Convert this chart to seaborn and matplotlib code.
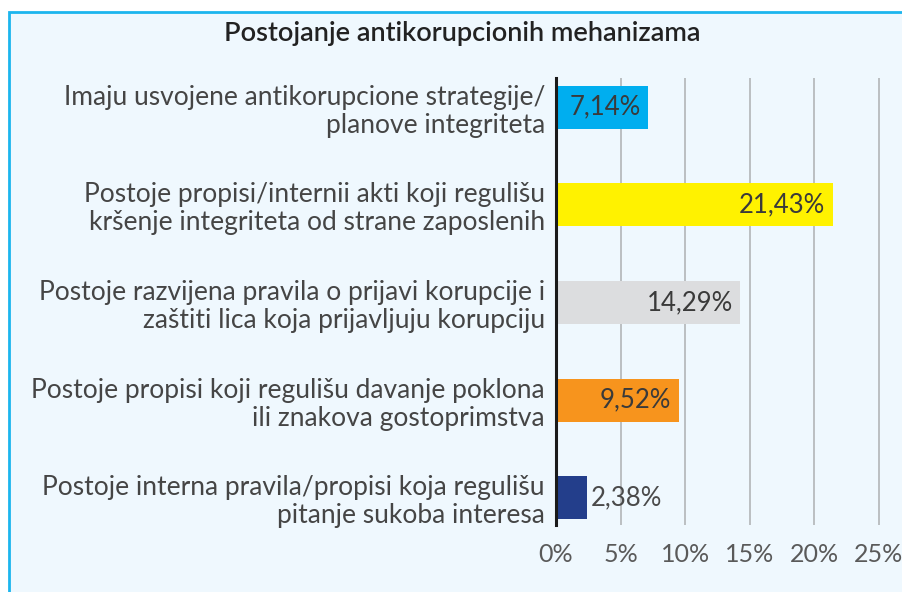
import matplotlib
matplotlib.use("Agg")
import matplotlib.pyplot as plt
import seaborn as sns
import pandas as pd
from matplotlib.patches import Rectangle

# data
categories = [
    "Imaju usvojene antikorupcione strategije/\nplanove integriteta",
    "Postoje propisi/internii akti koji regulišu\nkršenje integriteta od strane zaposlenih",
    "Postoje razvijena pravila o prijavi korupcije i\nzaštiti lica koja prijavljuju korupciju",
    "Postoje propisi koji regulišu davanje poklona\nili znakova gostoprimstva",
    "Postoje interna pravila/propisi koja regulišu\npitanje sukoba interesa",
]
values = [7.14, 21.43, 14.29, 9.52, 2.38]
value_labels = ["7,14%", "21,43%", "14,29%", "9,52%", "2,38%"]
colors = ["#00aeef", "#fff200", "#dcdddf", "#f7941d", "#233e8b"]
xticks = [0, 5, 10, 15, 20, 25]
xtick_labels = ["0%", "5%", "10%", "15%", "20%", "25%"]
title = "Postojanje antikorupcionih mehanizama"

df = pd.DataFrame({"cat": categories, "val": values})

sns.set_style("white")
plt.rcParams["font.family"] = ["Lato", "DejaVu Sans"]

bg = "#eff8fe"
fig = plt.figure(figsize=(9.03, 5.92), dpi=100, facecolor="white")
fig.patches.append(Rectangle((8.5 / 903, -0.05), 1.0, 1 - 12 / 592 + 0.05,
                             transform=fig.transFigure, facecolor=bg,
                             edgecolor="#1cb5ee", linewidth=2, zorder=-10))

ax = fig.add_axes([556 / 903, 1 - 525 / 592, (898 - 556) / 903, (525 - 78) / 592])
ax.set_facecolor("none")
ax.set_zorder(2)

sns.barplot(data=df, x="val", y="cat", hue="cat", palette=colors, legend=False,
            width=0.44, saturation=1, linewidth=0, ax=ax, zorder=3)

ax.set_xlim(0, 26.5)
ax.set_ylim(4.28, -0.3)
ax.set_xticks(xticks)
ax.set_xticklabels(xtick_labels, fontsize=18, color="#5a5a5a")
ax.set_yticks(range(len(categories)))
ax.set_yticklabels(categories, fontsize=19, color="#454545", linespacing=1.15)
ax.tick_params(axis="both", length=0)
ax.tick_params(axis="x", pad=13)
ax.tick_params(axis="y", pad=8)
ax.set_xlabel("")
ax.set_ylabel("")

for x in xticks[1:]:
    ax.axvline(x, color="#b2b5b8", linewidth=1.2, zorder=1)

for s in ["top", "right", "bottom"]:
    ax.spines[s].set_visible(False)
ax.spines["left"].set_color("#1a1a1a")
ax.spines["left"].set_linewidth(2.2)
ax.spines["left"].set_zorder(5)

for i, (v, lab) in enumerate(zip(values, value_labels)):
    if v < 5:
        ax.text(v + 0.3, i, lab, ha="left", va="center", fontsize=18.5,
                color="#4a4a4a", zorder=6)
    else:
        ax.text(v - 0.6, i, lab, ha="right", va="center", fontsize=18.5,
                color="#3a3a3a", zorder=6)

fig.text(462 / 903, 1 - 33 / 592, title, ha="center", va="center",
         fontsize=19.5, fontweight="semibold", color="#222222")

fig.savefig("out.png", dpi=100, facecolor="white")
